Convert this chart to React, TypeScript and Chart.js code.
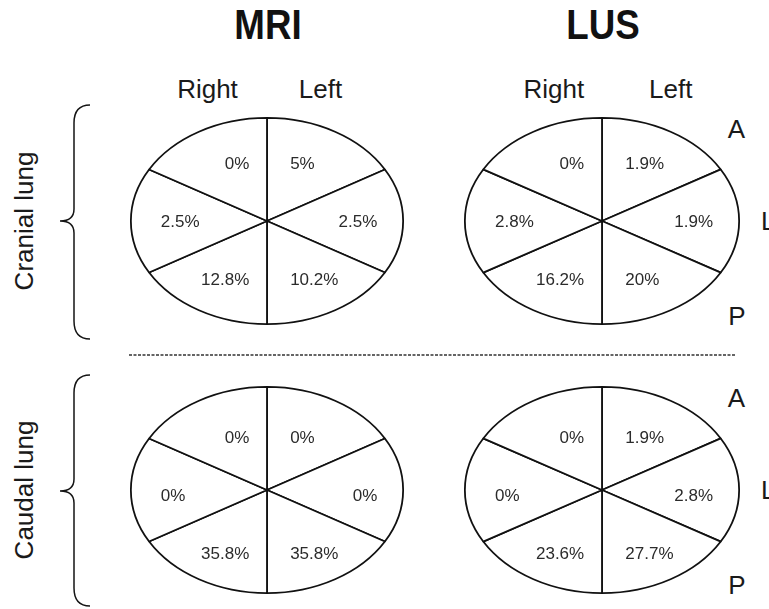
import React, { useEffect, useRef } from "react";
import { Chart, registerables } from "chart.js";

Chart.register(...registerables);

// Sectors, clockwise from the top: left-anterior, left-lateral, left-posterior,
// right-posterior, right-lateral, right-anterior
const sectorNames = ["Left A", "Left L", "Left P", "Right P", "Right L", "Right A"];
const sectorSpan = [60, 60, 60, 60, 60, 60];

const mriCranial = [5, 2.5, 10.2, 12.8, 2.5, 0];
const lusCranial = [1.9, 1.9, 20, 16.2, 2.8, 0];
const mriCaudal = [0, 0, 35.8, 35.8, 0, 0];
const lusCaudal = [1.9, 2.8, 27.7, 23.6, 0, 0];

const methods = ["MRI", "LUS"];
const sides = ["Right", "Left"];
const regions = ["Cranial lung", "Caudal lung"];
const axisLetters = ["A", "L", "P"];

const FONT = "'Liberation Sans', Arial, Helvetica, sans-serif";

type PieProps = {
  values: number[];
  cx: number;
  cy: number;
  rx: number;
  ry: number;
  labelDy: number;
};

function LungPie({ values, cx, cy, rx, ry, labelDy }: PieProps) {
  const ref = useRef<HTMLCanvasElement | null>(null);
  const W = Math.round(2 * rx + 8);
  const H = Math.round(2 * ry + 4);

  useEffect(() => {
    if (!ref.current) return;
    const sx = rx / ry;
    const ellipsePlugin = {
      id: "ellipseStretch",
      beforeDatasetsDraw(chart: any) {
        const ctx = chart.ctx as CanvasRenderingContext2D;
        const a = chart.chartArea;
        const x = (a.left + a.right) / 2;
        const y = (a.top + a.bottom) / 2;
        ctx.save();
        ctx.translate(x, y);
        ctx.scale(sx, 1);
        ctx.translate(-x, -y);
        const dpr = chart.currentDevicePixelRatio || 1;
        const proto = CanvasRenderingContext2D.prototype.stroke;
        (ctx as any).stroke = function (...args: any[]) {
          this.save();
          this.setTransform(dpr, 0, 0, dpr, 0, 0);
          proto.apply(this, args as any);
          this.restore();
        };
      },
      afterDatasetsDraw(chart: any) {
        const ctx = chart.ctx as CanvasRenderingContext2D;
        delete (ctx as any).stroke;
        ctx.restore();
        const meta = chart.getDatasetMeta(0);
        ctx.save();
        ctx.font = `17px ${FONT}`;
        ctx.fillStyle = "#2b2b2b";
        ctx.textBaseline = "middle";
        meta.data.forEach((arc: any, i: number) => {
          const p = arc.getProps(["x", "y", "startAngle", "endAngle", "outerRadius"], true);
          const mid = (p.startAngle + p.endAngle) / 2;
          const c = Math.cos(mid);
          const s = Math.sin(mid);
          const wr = p.outerRadius * sx;
          let lx: number;
          let align: CanvasTextAlign;
          if (Math.abs(c) > 0.9) {
            lx = p.x + (c > 0 ? 0.81 : -0.78) * wr;
            align = c > 0 ? "right" : "left";
          } else {
            lx = p.x + (c > 0 ? 0.17 : -0.13) * wr;
            align = c > 0 ? "left" : "right";
          }
          const ly = p.y + s * p.outerRadius * 0.65 + labelDy;
          ctx.textAlign = align;
          ctx.fillText(`${values[i]}%`, lx, ly);
        });
        ctx.restore();
      },
    };

    const chart = new Chart(ref.current, {
      type: "pie",
      data: {
        labels: sectorNames,
        datasets: [
          {
            data: sectorSpan,
            backgroundColor: "#ffffff",
            borderColor: "#111111",
            borderWidth: 1.8,
            hoverOffset: 0,
          },
        ],
      },
      options: {
        responsive: false,
        animation: false,
        events: [],
        layout: { padding: 1 },
        plugins: {
          legend: { display: false },
          tooltip: { enabled: false },
        },
      },
      plugins: [ellipsePlugin as any],
    });
    return () => chart.destroy();
  }, [values, rx, ry, labelDy]);

  return (
    <canvas
      ref={ref}
      width={W}
      height={H}
      style={{ position: "absolute", left: cx - W / 2, top: cy - H / 2, width: W, height: H }}
    />
  );
}

function Text({
  text,
  x,
  baseline,
  size,
  bold,
  scaleX,
  align,
  color,
}: {
  text: string;
  x: number;
  baseline: number;
  size: number;
  bold?: boolean;
  scaleX?: number;
  align?: "center" | "left";
  color?: string;
}) {
  const tx = align === "left" ? "" : "translateX(-50%)";
  return (
    <div
      style={{
        position: "absolute",
        left: x,
        top: baseline - 0.8465 * size,
        fontSize: size,
        lineHeight: `${size}px`,
        fontFamily: FONT,
        fontWeight: bold ? 700 : 400,
        color: color || "#1a1a1a",
        whiteSpace: "nowrap",
        transform: `${tx} scaleX(${scaleX || 1})`,
        transformOrigin: align === "left" ? "left center" : "center center",
      }}
    >
      {text}
    </div>
  );
}

function Brace({ top, tip, bottom }: { top: number; tip: number; bottom: number }) {
  const d = `M90,${top} Q74,${top} 74,${top + 18} L74,${tip - 12} Q74,${tip} 60,${tip} Q74,${tip} 74,${tip + 12} L74,${bottom - 18} Q74,${bottom} 90,${bottom}`;
  return <path d={d} fill="none" stroke="#151515" strokeWidth={1.5} />;
}

export default function App() {
  const rowY = [221, 490];
  const colX = [267, 602];
  const rxs = [136, 137];
  const ry = 103;
  const panels = [
    [mriCranial, lusCranial],
    [mriCaudal, lusCaudal],
  ];
  const labelDys = [1, 6];
  const sideX = [
    [207.5, 320.5],
    [553.8, 670.7],
  ];

  return (
    <div
      style={{
        position: "absolute",
        left: 0,
        top: 0,
        width: 769,
        height: 609,
        background: "#ffffff",
        overflow: "hidden",
      }}
    >
      <svg width={769} height={609} style={{ position: "absolute", left: 0, top: 0 }}>
        <Brace top={105} tip={221} bottom={339} />
        <Brace top={375} tip={491} bottom={606} />
        <line x1={129} y1={355} x2={736} y2={355} stroke="#333" strokeWidth={1.5} strokeDasharray="3 1.5" />
      </svg>

      {methods.map((m, i) => (
        <Text key={m} text={m} x={colX[i] + 0.5} baseline={40} size={42} bold scaleX={0.875} color="#111" />
      ))}
      {methods.map((m, i) =>
        sides.map((s, j) => <Text key={m + s} text={s} x={sideX[i][j]} baseline={98} size={26} />)
      )}

      {regions.map((r, i) => (
        <div
          key={r}
          style={{
            position: "absolute",
            left: 24,
            top: rowY[i],
            fontSize: 26,
            lineHeight: "26px",
            fontFamily: FONT,
            color: "#1a1a1a",
            whiteSpace: "nowrap",
            transform: "translate(-50%, -50%) rotate(-90deg)",
          }}
        >
          {r}
        </div>
      ))}

      {rowY.map((y, i) => (
        <React.Fragment key={y}>
          <Text text={axisLetters[0]} x={736.5} baseline={y - 92 + 9} size={26} />
          <Text text={axisLetters[1]} x={761} baseline={y + 9.5} size={26} align="left" />
          <Text text={axisLetters[2]} x={737} baseline={y + 95 + 9} size={26} />
        </React.Fragment>
      ))}

      {rowY.map((y, i) =>
        colX.map((x, j) => (
          <LungPie key={`${i}-${j}`} values={panels[i][j]} cx={x} cy={y} rx={rxs[j]} ry={ry} labelDy={labelDys[i]} />
        ))
      )}
    </div>
  );
}
